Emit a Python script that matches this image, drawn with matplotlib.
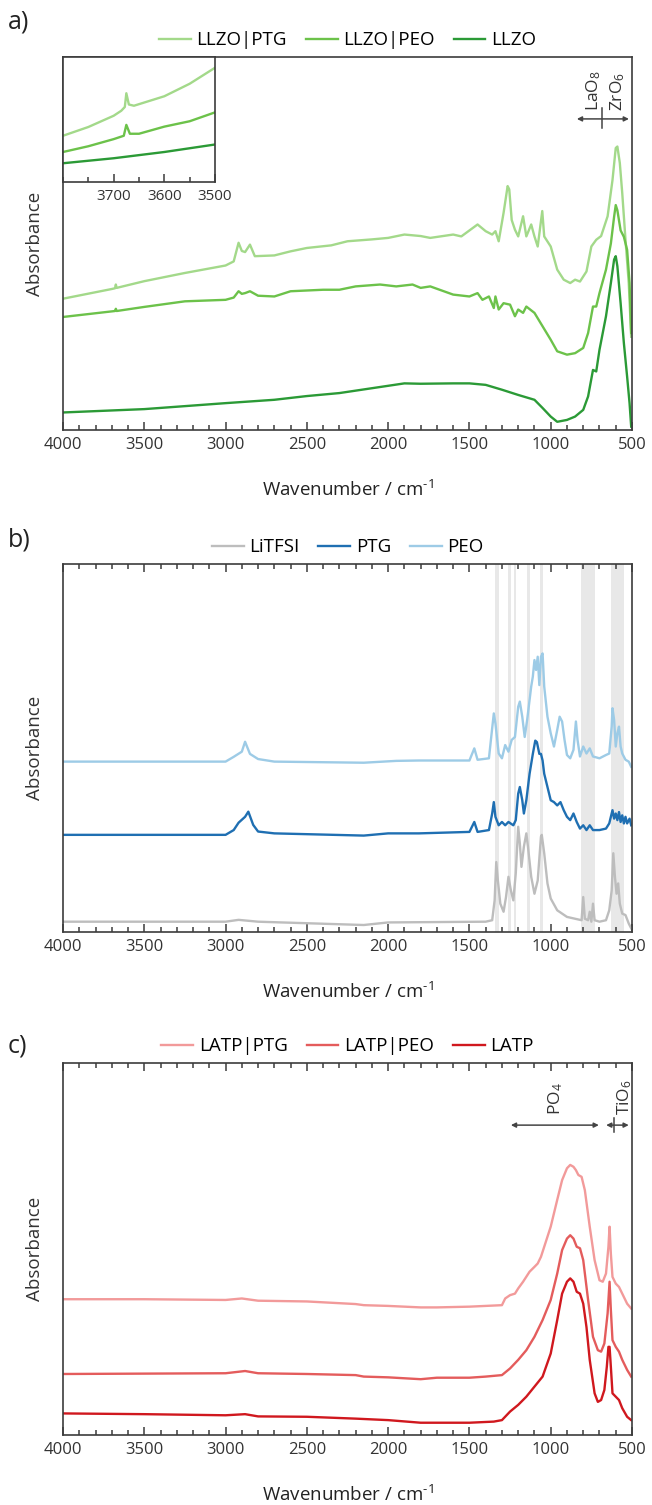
import matplotlib
matplotlib.use("Agg")
import matplotlib.pyplot as plt
from matplotlib.ticker import MultipleLocator, NullLocator

plt.rcParams['font.family'] = ['Open Sans', 'DejaVu Sans']
plt.rcParams['mathtext.fontset'] = 'custom'
plt.rcParams['mathtext.rm'] = 'Open Sans'
plt.rcParams['mathtext.it'] = 'Open Sans'

# ---------------- Panel a: LLZO ----------------
a_ptg_x = [4000, 3700, 3680, 3675, 3670, 3500, 3250, 3000, 2950, 2920, 2900, 2880, 2850, 2820, 2700, 2600,
           2500, 2350, 2250, 2100, 2000, 1900, 1800, 1741, 1600, 1550, 1450, 1400, 1360, 1340, 1320, 1290,
           1265, 1255, 1240, 1220, 1200, 1170, 1150, 1120, 1100, 1080, 1052, 1040, 1000, 960, 920, 880,
           850, 820, 780, 750, 720, 690, 650, 620, 600, 590, 575, 560, 540, 520, 505]
a_ptg_y = [0.352, 0.378, 0.380, 0.390, 0.381, 0.399, 0.421, 0.441, 0.452, 0.502, 0.480, 0.477, 0.497, 0.466,
           0.468, 0.479, 0.488, 0.495, 0.506, 0.511, 0.515, 0.524, 0.520, 0.515, 0.524, 0.519, 0.551, 0.533,
           0.524, 0.533, 0.506, 0.582, 0.654, 0.645, 0.563, 0.537, 0.519, 0.573, 0.519, 0.551, 0.519, 0.492,
           0.587, 0.519, 0.492, 0.430, 0.403, 0.394, 0.403, 0.398, 0.425, 0.492, 0.510, 0.520, 0.573, 0.670,
           0.756, 0.760, 0.716, 0.635, 0.510, 0.394, 0.250]

a_peo_x = [4000, 3700, 3680, 3675, 3670, 3500, 3250, 3000, 2950, 2920, 2900, 2880, 2850, 2800, 2700, 2600,
           2400, 2300, 2200, 2050, 1950, 1850, 1800, 1741, 1600, 1500, 1450, 1420, 1380, 1350, 1340, 1320,
           1290, 1250, 1220, 1200, 1170, 1150, 1100, 1050, 1000, 960, 900, 850, 800, 770, 740, 720, 700,
           660, 630, 610, 600, 590, 570, 550, 530, 515, 505]
a_peo_y = [0.303, 0.318, 0.319, 0.325, 0.319, 0.330, 0.345, 0.349, 0.355, 0.372, 0.365, 0.367, 0.372, 0.360,
           0.358, 0.372, 0.376, 0.376, 0.385, 0.390, 0.385, 0.390, 0.381, 0.385, 0.363, 0.358, 0.367, 0.349,
           0.358, 0.327, 0.358, 0.323, 0.340, 0.336, 0.305, 0.323, 0.314, 0.331, 0.314, 0.278, 0.242, 0.211,
           0.202, 0.206, 0.220, 0.260, 0.331, 0.331, 0.367, 0.430, 0.500, 0.572, 0.603, 0.589, 0.535, 0.518,
           0.483, 0.394, 0.260]

a_llzo_x = [4000, 3500, 3000, 2700, 2500, 2300, 2100, 1900, 1800, 1600, 1500, 1400, 1300, 1200, 1100, 1050,
            1000, 960, 900, 850, 800, 770, 740, 720, 700, 660, 630, 610, 600, 590, 570, 550, 530, 515, 505]
a_llzo_y = [0.047, 0.056, 0.072, 0.081, 0.091, 0.099, 0.112, 0.125, 0.124, 0.125, 0.125, 0.121, 0.108, 0.094,
            0.081, 0.059, 0.036, 0.022, 0.027, 0.036, 0.054, 0.090, 0.161, 0.157, 0.215, 0.305, 0.394, 0.457,
            0.466, 0.439, 0.340, 0.233, 0.143, 0.072, 0.009]

# inset (3800-3500 cm-1)
in_ptg_x = [3800, 3750, 3700, 3685, 3678, 3675, 3670, 3660, 3600, 3550, 3500]
in_ptg_y = [0.37, 0.44, 0.53, 0.57, 0.60, 0.71, 0.62, 0.61, 0.686, 0.786, 0.914]
in_peo_x = [3800, 3750, 3700, 3680, 3675, 3668, 3650, 3600, 3550, 3500]
in_peo_y = [0.24, 0.286, 0.343, 0.37, 0.457, 0.386, 0.386, 0.443, 0.486, 0.557]
in_llzo_x = [3800, 3700, 3600, 3500]
in_llzo_y = [0.15, 0.19, 0.24, 0.30]

# ---------------- Panel b: LiTFSI / PTG / PEO ----------------
b_peo_x = [4000, 3000, 2950, 2900, 2880, 2850, 2800, 2700, 2150, 1950, 1811, 1500, 1470, 1450, 1380, 1360,
           1350, 1340, 1320, 1300, 1280, 1260, 1240, 1220, 1200, 1190, 1175, 1160, 1145, 1120, 1110, 1100,
           1090, 1080, 1070, 1060, 1050, 1040, 1020, 1000, 980, 960, 945, 930, 915, 900, 880, 860, 845, 835,
           820, 800, 780, 760, 740, 700, 660, 640, 625, 620, 610, 600, 590, 580, 570, 560, 540, 520, 505]
b_peo_y = [0.463, 0.463, 0.476, 0.490, 0.517, 0.484, 0.470, 0.463, 0.460, 0.465, 0.466, 0.466, 0.499, 0.468,
           0.472, 0.554, 0.594, 0.567, 0.485, 0.472, 0.508, 0.490, 0.522, 0.530, 0.612, 0.626, 0.585, 0.530,
           0.576, 0.667, 0.694, 0.739, 0.712, 0.748, 0.671, 0.748, 0.757, 0.667, 0.585, 0.540, 0.504, 0.549,
           0.585, 0.572, 0.522, 0.481, 0.472, 0.495, 0.572, 0.522, 0.477, 0.504, 0.485, 0.499, 0.477, 0.472,
           0.481, 0.485, 0.558, 0.608, 0.576, 0.504, 0.540, 0.558, 0.504, 0.485, 0.468, 0.463, 0.449]

b_ptg_x = [4000, 3000, 2950, 2920, 2880, 2860, 2830, 2800, 2700, 2150, 2000, 1811, 1500, 1470, 1450, 1380,
           1360, 1350, 1340, 1320, 1300, 1280, 1260, 1230, 1215, 1200, 1190, 1175, 1165, 1150, 1130, 1110,
           1095, 1085, 1070, 1060, 1050, 1040, 1020, 1000, 980, 960, 940, 920, 900, 880, 860, 840, 820, 800,
           780, 760, 740, 700, 660, 640, 620, 610, 600, 590, 580, 570, 560, 550, 540, 530, 515, 505]
b_ptg_y = [0.264, 0.264, 0.277, 0.297, 0.313, 0.327, 0.291, 0.273, 0.268, 0.262, 0.268, 0.268, 0.272, 0.299,
           0.272, 0.277, 0.322, 0.353, 0.313, 0.290, 0.299, 0.290, 0.299, 0.290, 0.304, 0.376, 0.394, 0.358,
           0.322, 0.358, 0.430, 0.484, 0.520, 0.516, 0.484, 0.484, 0.466, 0.430, 0.394, 0.358, 0.353, 0.344,
           0.353, 0.331, 0.313, 0.304, 0.322, 0.299, 0.281, 0.290, 0.277, 0.290, 0.277, 0.277, 0.281, 0.295,
           0.331, 0.308, 0.322, 0.304, 0.326, 0.299, 0.317, 0.295, 0.313, 0.295, 0.308, 0.290]

b_litfsi_x = [4000, 3000, 2920, 2800, 2150, 2000, 1400, 1360, 1345, 1335, 1325, 1310, 1290, 1275, 1260, 1245,
              1230, 1215, 1200, 1190, 1180, 1165, 1150, 1140, 1120, 1100, 1080, 1060, 1055, 1040, 1020, 1000,
              960, 900, 850, 810, 800, 790, 770, 760, 750, 740, 730, 700, 660, 640, 625, 615, 605, 595, 585,
              575, 560, 540, 520, 505]
b_litfsi_y = [0.028, 0.028, 0.033, 0.028, 0.019, 0.026, 0.028, 0.032, 0.086, 0.190, 0.140, 0.077, 0.055,
              0.095, 0.150, 0.113, 0.086, 0.159, 0.286, 0.241, 0.177, 0.232, 0.268, 0.232, 0.150, 0.104, 0.140,
              0.259, 0.264, 0.214, 0.132, 0.091, 0.059, 0.041, 0.036, 0.032, 0.095, 0.036, 0.032, 0.055, 0.028,
              0.077, 0.032, 0.028, 0.032, 0.059, 0.113, 0.214, 0.150, 0.104, 0.132, 0.077, 0.050, 0.046, 0.023,
              0.010]

# shaded bands (cm-1)
band_lo = [1320, 1242, 1213, 1125, 1045, 729, 551]
band_hi = [1340, 1262, 1227, 1145, 1065, 811, 627]

# ---------------- Panel c: LATP ----------------
c_ptg_x = [4000, 3500, 3000, 2900, 2800, 2500, 2200, 2150, 2000, 1800, 1700, 1500, 1300, 1280, 1250, 1220,
           1200, 1170, 1130, 1100, 1080, 1060, 1040, 1000, 960, 930, 900, 880, 860, 845, 830, 810, 790, 760,
           730, 700, 680, 660, 645, 638, 630, 620, 600, 580, 560, 530, 505]
c_ptg_y = [0.365, 0.365, 0.363, 0.367, 0.361, 0.359, 0.352, 0.349, 0.347, 0.343, 0.343, 0.345, 0.349, 0.367,
           0.376, 0.380, 0.394, 0.412, 0.439, 0.452, 0.461, 0.479, 0.506, 0.560, 0.632, 0.685, 0.717, 0.726,
           0.721, 0.712, 0.699, 0.694, 0.658, 0.560, 0.470, 0.416, 0.412, 0.434, 0.506, 0.560, 0.487, 0.425,
           0.407, 0.398, 0.380, 0.353, 0.340]

c_peo_x = [4000, 3000, 2880, 2800, 2500, 2200, 2150, 2000, 1800, 1700, 1500, 1400, 1300, 1250, 1200, 1150,
           1100, 1050, 1000, 960, 930, 900, 880, 860, 840, 820, 800, 770, 740, 710, 690, 670, 650, 638, 630,
           620, 600, 580, 560, 530, 505]
c_peo_y = [0.164, 0.166, 0.172, 0.166, 0.164, 0.161, 0.157, 0.155, 0.150, 0.154, 0.154, 0.157, 0.161, 0.179,
           0.202, 0.228, 0.264, 0.309, 0.363, 0.434, 0.497, 0.528, 0.537, 0.528, 0.506, 0.502, 0.470, 0.363,
           0.264, 0.228, 0.224, 0.246, 0.327, 0.412, 0.336, 0.255, 0.237, 0.224, 0.202, 0.175, 0.157]

c_latp_x = [4000, 3500, 3000, 2880, 2800, 2500, 2200, 2000, 1800, 1700, 1500, 1350, 1300, 1250, 1200, 1150,
            1100, 1050, 1000, 960, 930, 900, 880, 860, 840, 820, 800, 780, 760, 730, 710, 690, 670, 655, 645,
            638, 630, 620, 600, 580, 560, 530, 505]
c_latp_y = [0.058, 0.056, 0.053, 0.056, 0.050, 0.049, 0.044, 0.040, 0.033, 0.033, 0.033, 0.036, 0.040, 0.063,
            0.081, 0.103, 0.130, 0.157, 0.219, 0.309, 0.380, 0.412, 0.421, 0.412, 0.385, 0.380, 0.353, 0.290,
            0.202, 0.112, 0.089, 0.094, 0.121, 0.183, 0.237, 0.237, 0.183, 0.112, 0.103, 0.094, 0.072, 0.049,
            0.040]

# ---------------- Figure ----------------
W, H = 652, 1505
fig = plt.figure(figsize=(W / 100, H / 100), dpi=100)

def px_axes(left, top, right, bottom):
    return fig.add_axes([left / W, 1 - bottom / H, (right - left) / W, (bottom - top) / H])

SPINE = '#3c3c3c'
LW = 1.7
XLABEL = 'Wavenumber / cm$^{\\text{-1}}$'

def style(ax, top_ticks=True):
    ax.set_xlim(4000, 500)
    ax.set_ylim(0, 1)
    ax.xaxis.set_major_locator(MultipleLocator(500))
    ax.xaxis.set_minor_locator(MultipleLocator(100))
    ax.yaxis.set_major_locator(NullLocator())
    ax.tick_params(axis='x', which='both', direction='in', top=top_ticks, bottom=True,
                   color=SPINE, labelsize=12, labelcolor='#333333', width=1.1, pad=5)
    ax.tick_params(axis='x', which='major', length=6)
    ax.tick_params(axis='x', which='minor', length=3.5)
    for s in ax.spines.values():
        s.set_color(SPINE)
        s.set_linewidth(1.2)
    ax.set_xlabel(XLABEL, fontsize=13.5, color='#222222')
    ax.xaxis.set_label_coords(0.5, -0.135)
    ax.set_ylabel('Absorbance', fontsize=13.5, color='#333333')
    ax.yaxis.set_label_coords(-0.033, 0.5)

def legend(ax):
    ax.legend(loc='lower center', bbox_to_anchor=(0.5, 0.995), ncol=3, frameon=False,
              fontsize=13.5, handlelength=1.7, handletextpad=0.3, columnspacing=1.0,
              borderaxespad=0.1)

def annotate_range(ax, x1, x2, y):
    ax.annotate('', xy=(x2, y), xytext=(x1, y),
                arrowprops=dict(arrowstyle='<|-|>', color='#444444', lw=1.1,
                                mutation_scale=7, shrinkA=0, shrinkB=0))

# Panel a
axa = px_axes(63, 57, 632, 430)
ga = ['#a3d98a', '#6cc24a', '#2b9a36']
axa.plot(a_ptg_x, a_ptg_y, color=ga[0], lw=LW, label='LLZO|PTG')
axa.plot(a_peo_x, a_peo_y, color=ga[1], lw=LW, label='LLZO|PEO')
axa.plot(a_llzo_x, a_llzo_y, color=ga[2], lw=LW, label='LLZO')
style(axa, top_ticks=False)
legend(axa)
annotate_range(axa, 839, 519, 0.834)
axa.plot([686, 686], [0.81, 0.862], color='#444444', lw=1.1)
axa.text(736, 0.855, 'LaO$_8$', rotation=90, ha='center', va='bottom', fontsize=12.5, color='#333333')
axa.text(590, 0.855, 'ZrO$_6$', rotation=90, ha='center', va='bottom', fontsize=12.5, color='#333333')

ins = px_axes(63, 57, 215, 182)
ins.plot(in_ptg_x, in_ptg_y, color=ga[0], lw=LW)
ins.plot(in_peo_x, in_peo_y, color=ga[1], lw=LW)
ins.plot(in_llzo_x, in_llzo_y, color=ga[2], lw=LW)
ins.set_xlim(3800, 3500)
ins.set_ylim(0, 1)
ins.xaxis.set_major_locator(MultipleLocator(100))
ins.xaxis.set_minor_locator(MultipleLocator(50))
ins.yaxis.set_major_locator(NullLocator())
ins.tick_params(axis='x', which='both', direction='in', color=SPINE, labelsize=11,
                labelcolor='#333333', width=1.1, pad=5)
ins.tick_params(axis='x', which='major', length=6)
ins.tick_params(axis='x', which='minor', length=3.5)
ins.set_xticks([3700, 3600, 3500])
for s in ins.spines.values():
    s.set_color(SPINE)
    s.set_linewidth(1.2)

# Panel b
axb = px_axes(63, 564, 632, 932)
for lo, hi in zip(band_lo, band_hi):
    axb.axvspan(lo, hi, color='#e8e8e8', lw=0, zorder=0)
axb.plot(b_litfsi_x, b_litfsi_y, color='#bdbdbd', lw=LW, label='LiTFSI')
axb.plot(b_ptg_x, b_ptg_y, color='#1f6fb2', lw=LW, label='PTG')
axb.plot(b_peo_x, b_peo_y, color='#9dcbe6', lw=LW, label='PEO')
style(axb)
legend(axb)

# Panel c
axc = px_axes(63, 1063, 632, 1435)
axc.plot(c_ptg_x, c_ptg_y, color='#f29a9a', lw=LW, label='LATP|PTG')
axc.plot(c_peo_x, c_peo_y, color='#e45c5c', lw=LW, label='LATP|PEO')
axc.plot(c_latp_x, c_latp_y, color='#d0181e', lw=LW, label='LATP')
style(axc)
legend(axc)
annotate_range(axc, 1245, 704, 0.833)
annotate_range(axc, 659, 520, 0.833)
axc.plot([612, 612], [0.815, 0.851], color='#444444', lw=1.1)
axc.text(969, 0.86, 'PO$_4$', rotation=90, ha='center', va='bottom', fontsize=12.5, color='#333333')
axc.text(548, 0.86, 'TiO$_6$', rotation=90, ha='center', va='bottom', fontsize=12.5, color='#333333')

# Panel letters
fig.text(8 / W, 1 - 22 / H, 'a)', fontsize=18, va='center', ha='left', color='#222222')
fig.text(8 / W, 1 - 540 / H, 'b)', fontsize=18, va='center', ha='left', color='#222222')
fig.text(8 / W, 1 - 1046 / H, 'c)', fontsize=18, va='center', ha='left', color='#222222')

fig.savefig('out.png', dpi=100)
